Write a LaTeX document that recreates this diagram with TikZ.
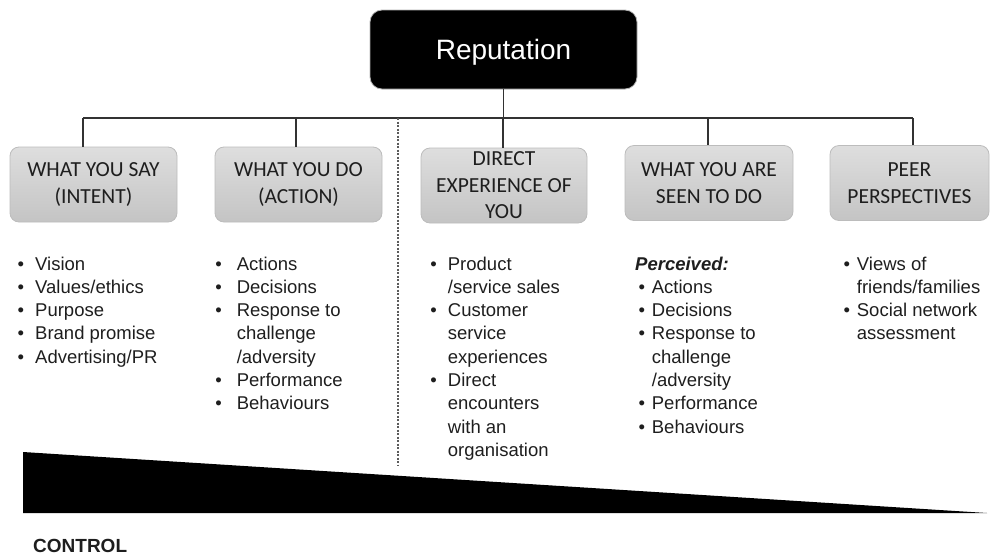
\documentclass[tikz,border=0pt]{standalone}
\usepackage{fontspec}
\setmainfont{Liberation Sans}
\newfontfamily\boxfont{Carlito}
\definecolor{boxtop}{RGB}{222,222,222}
\definecolor{boxbot}{RGB}{196,196,196}
\definecolor{boxline}{RGB}{188,188,188}
\definecolor{conncol}{RGB}{50,50,50}
\definecolor{txt}{RGB}{30,30,30}
\newcommand\bu{\makebox[0pt]{•}}
\begin{document}
\begin{tikzpicture}[x=1pt,y=-1pt,
  rep/.style={rounded corners=12pt, fill=black, draw=gray!60, line width=0.8pt,
    minimum width=267pt, minimum height=79pt, inner sep=0pt, text=white,
    font=\fontsize{28}{32}\selectfont, text height=20pt, text depth=0pt},
  cat/.style={rounded corners=9pt, top color=boxtop, bottom color=boxbot,
    draw=boxline, line width=0.8pt, minimum height=75pt, inner sep=0pt,
    align=center, font=\boxfont\fontsize{21.5}{26.5}\selectfont, text=txt},
  conn/.style={draw=conncol, line width=1.6pt},
  divider/.style={draw=conncol!80, line width=1.2pt, dash pattern=on 2.2pt off 1.3pt},
  lst/.style={anchor=base west, inner sep=0pt, font=\fontsize{18.5}{23.3}\selectfont, text=txt},
]
\useasboundingbox (0,0) rectangle (990,555);

% top node
\node[rep] (rep) at (503.5,49.5) {Reputation};

% category boxes
\node[cat, minimum width=167pt] (b1) at (93.5,184.5) {WHAT YOU SAY\\(INTENT)};
\node[cat, minimum width=167pt] (b2) at (298.5,184.5) {WHAT YOU DO\\(ACTION)};
\node[cat, minimum width=166pt] (b3) at (504,185.5) {DIRECT\\EXPERIENCE OF\\YOU};
\node[cat, minimum width=168pt] (b4) at (709,183) {WHAT YOU ARE\\SEEN TO DO};
\node[cat, minimum width=159pt] (b5) at (909.5,183) {PEER\\PERSPECTIVES};

% bus
\coordinate (h1) at (83,118);
\coordinate (h2) at (296,118);
\coordinate (h3) at (503,118);
\coordinate (h4) at (708,118);
\coordinate (h5) at (913,118);
\draw[conn] (h1) -- (h5);
\draw[conn] (rep.south) -- (rep.south |- h3);
\draw[conn] (h1) -- (h1 |- b1.north);
\draw[conn] (h2) -- (h2 |- b2.north);
\draw[conn] (h3) -- (h3 |- b3.north);
\draw[conn] (h4) -- (h4 |- b4.north);
\draw[conn] (h5) -- (h5 |- b5.north);

% divider
\coordinate (d1) at (398,118);
\coordinate (d2) at (398,465);
\draw[divider] (d1) -- (d2);

% lists
\node[lst] (l1) at (20.7,270) {\begin{tabular}[t]{@{}l@{\hspace{14.3pt}}l@{}}
\bu & Vision\\
\bu & Values/ethics\\
\bu & Purpose\\
\bu & Brand promise\\
\bu & Advertising/PR
\end{tabular}};

\node[lst] (l2) at (218.3,270) {\begin{tabular}[t]{@{}l@{\hspace{18.3pt}}l@{}}
\bu & Actions\\
\bu & Decisions\\
\bu & Response to\\
    & challenge\\
    & /adversity\\
\bu & Performance\\
\bu & Behaviours
\end{tabular}};

\node[lst] (l3) at (433.3,270) {\begin{tabular}[t]{@{}l@{\hspace{14.4pt}}l@{}}
\bu & Product\\
    & /service sales\\
\bu & Customer\\
    & service\\
    & experiences\\
\bu & Direct\\
    & encounters\\
    & with an\\
    & organisation
\end{tabular}};

\node[lst] (l4) at (641.7,270) {\begin{tabular}[t]{@{}l@{\hspace{10pt}}l@{}}
\multicolumn{2}{@{}l@{}}{\hspace*{-6.7pt}\textbf{\textit{Perceived:}}}\\
\bu & Actions\\
\bu & Decisions\\
\bu & Response to\\
    & challenge\\
    & /adversity\\
\bu & Performance\\
\bu & Behaviours
\end{tabular}};

\node[lst] (l5) at (846.7,270) {\begin{tabular}[t]{@{}l@{\hspace{10pt}}l@{}}
\bu & Views of\\
    & friends/families\\
\bu & Social network\\
    & assessment
\end{tabular}};

% control wedge
\fill[black] (23,452) -- (987,513) -- (23,513) -- cycle;
\node[anchor=base west, inner sep=0pt, font=\bfseries\fontsize{19}{22}\selectfont, text=txt] (ctl) at (33,552) {CONTROL};
\end{tikzpicture}
\end{document}
